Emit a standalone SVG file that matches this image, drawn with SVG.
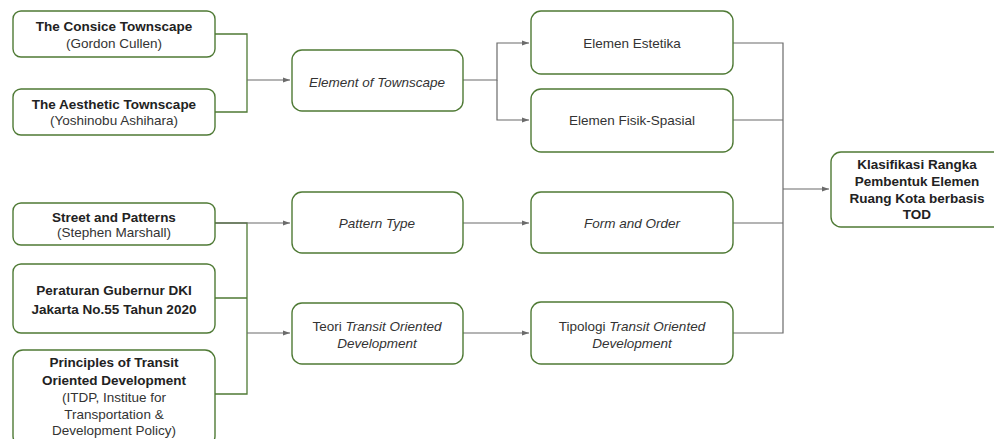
<svg xmlns="http://www.w3.org/2000/svg" width="994" height="439" viewBox="0 0 994 439">
<style>
.box{fill:#fff;stroke:#4f7a35;stroke-width:1.4}
.t{font-family:"Liberation Sans",Arial,sans-serif;font-size:13.5px;fill:#333;text-anchor:middle}
.b{font-weight:bold;fill:#222}
.i{font-style:italic}
.g{fill:none;stroke:#4f7a35;stroke-width:1.3}
.c{fill:none;stroke:#6b6b6b;stroke-width:1.2}
</style>
<defs>
<marker id="a" viewBox="0 0 10 10" refX="10" refY="5" markerWidth="6" markerHeight="6" orient="auto">
<path d="M0,1.5 L10,5 L0,8.5 Z" fill="#6b6b6b"/>
</marker>
</defs>
<rect width="994" height="439" fill="#fff"/>
<g id="connectors">
<path class="g" d="M215,34 H247 V112 H215"/>
<path class="c" d="M247,80 H290" marker-end="url(#a)"/>
<path class="g" d="M215,223 H247 V394 H215 M215,298 H247"/>
<path class="c" d="M215,223 H290" marker-end="url(#a)"/>
<path class="c" d="M247,333 H290" marker-end="url(#a)"/>
<path class="c" d="M463,80 H497 V43 H529" marker-end="url(#a)"/>
<path class="c" d="M497,80 V120 H529" marker-end="url(#a)"/>
<path class="c" d="M463,223 H529" marker-end="url(#a)"/>
<path class="c" d="M463,333 H529" marker-end="url(#a)"/>
<path class="c" d="M733,43 H783 V333 H733 M733,120 H783 M733,223 H783"/>
<path class="c" d="M783,189 H829" marker-end="url(#a)"/>
</g>
<g id="n1"><rect class="box" x="13" y="11" width="202" height="46" rx="8"/>
<text class="t b" x="114" y="31">The Consice Townscape</text>
<text class="t" x="114" y="48">(Gordon Cullen)</text></g>
<g id="n2"><rect class="box" x="13" y="89" width="202" height="46" rx="8"/>
<text class="t b" x="114" y="109">The Aesthetic Townscape</text>
<text class="t" x="114" y="125">(Yoshinobu Ashihara)</text></g>
<g id="n3"><rect class="box" x="13" y="203" width="202" height="42" rx="8"/>
<text class="t b" x="114" y="222">Street and Patterns</text>
<text class="t" x="114" y="237">(Stephen Marshall)</text></g>
<g id="n4"><rect class="box" x="13" y="264" width="202" height="69" rx="8"/>
<text class="t b" x="114" y="295">Peraturan Gubernur DKI</text>
<text class="t b" x="114" y="314">Jakarta No.55 Tahun 2020</text></g>
<g id="n5"><rect class="box" x="13" y="350" width="202" height="96" rx="10"/>
<text class="t b" x="114" y="367">Principles of Transit</text>
<text class="t b" x="114" y="385">Oriented Development</text>
<text class="t" x="114" y="402">(ITDP, Institue for</text>
<text class="t" x="114" y="419">Transportation &amp;</text>
<text class="t" x="114" y="435">Development Policy)</text></g>
<g id="n6"><rect class="box" x="292" y="50" width="171" height="61" rx="10"/>
<text class="t i" x="377" y="87">Element of Townscape</text></g>
<g id="n7"><rect class="box" x="292" y="192" width="171" height="61" rx="10"/>
<text class="t i" x="377" y="228">Pattern Type</text></g>
<g id="n8"><rect class="box" x="292" y="303" width="171" height="61" rx="10"/>
<text class="t" x="377" y="331">Teori <tspan class="i">Transit Oriented</tspan></text>
<text class="t i" x="377" y="348">Development</text></g>
<g id="n9"><rect class="box" x="531" y="11" width="202" height="63" rx="10"/>
<text class="t" x="632" y="48">Elemen Estetika</text></g>
<g id="n10"><rect class="box" x="531" y="89" width="202" height="63" rx="10"/>
<text class="t" x="632" y="125">Elemen Fisik-Spasial</text></g>
<g id="n11"><rect class="box" x="531" y="192" width="202" height="61" rx="10"/>
<text class="t i" x="632" y="228">Form and Order</text></g>
<g id="n12"><rect class="box" x="531" y="302" width="202" height="62" rx="10"/>
<text class="t" x="632" y="331">Tipologi <tspan class="i">Transit Oriented</tspan></text>
<text class="t i" x="632" y="348">Development</text></g>
<g id="n13"><rect class="box" x="831" y="152" width="175" height="75" rx="10"/>
<text class="t b" x="917" y="169">Klasifikasi Rangka</text>
<text class="t b" x="917" y="186">Pembentuk Elemen</text>
<text class="t b" x="917" y="203">Ruang Kota berbasis</text>
<text class="t b" x="917" y="219">TOD</text></g>
</svg>
